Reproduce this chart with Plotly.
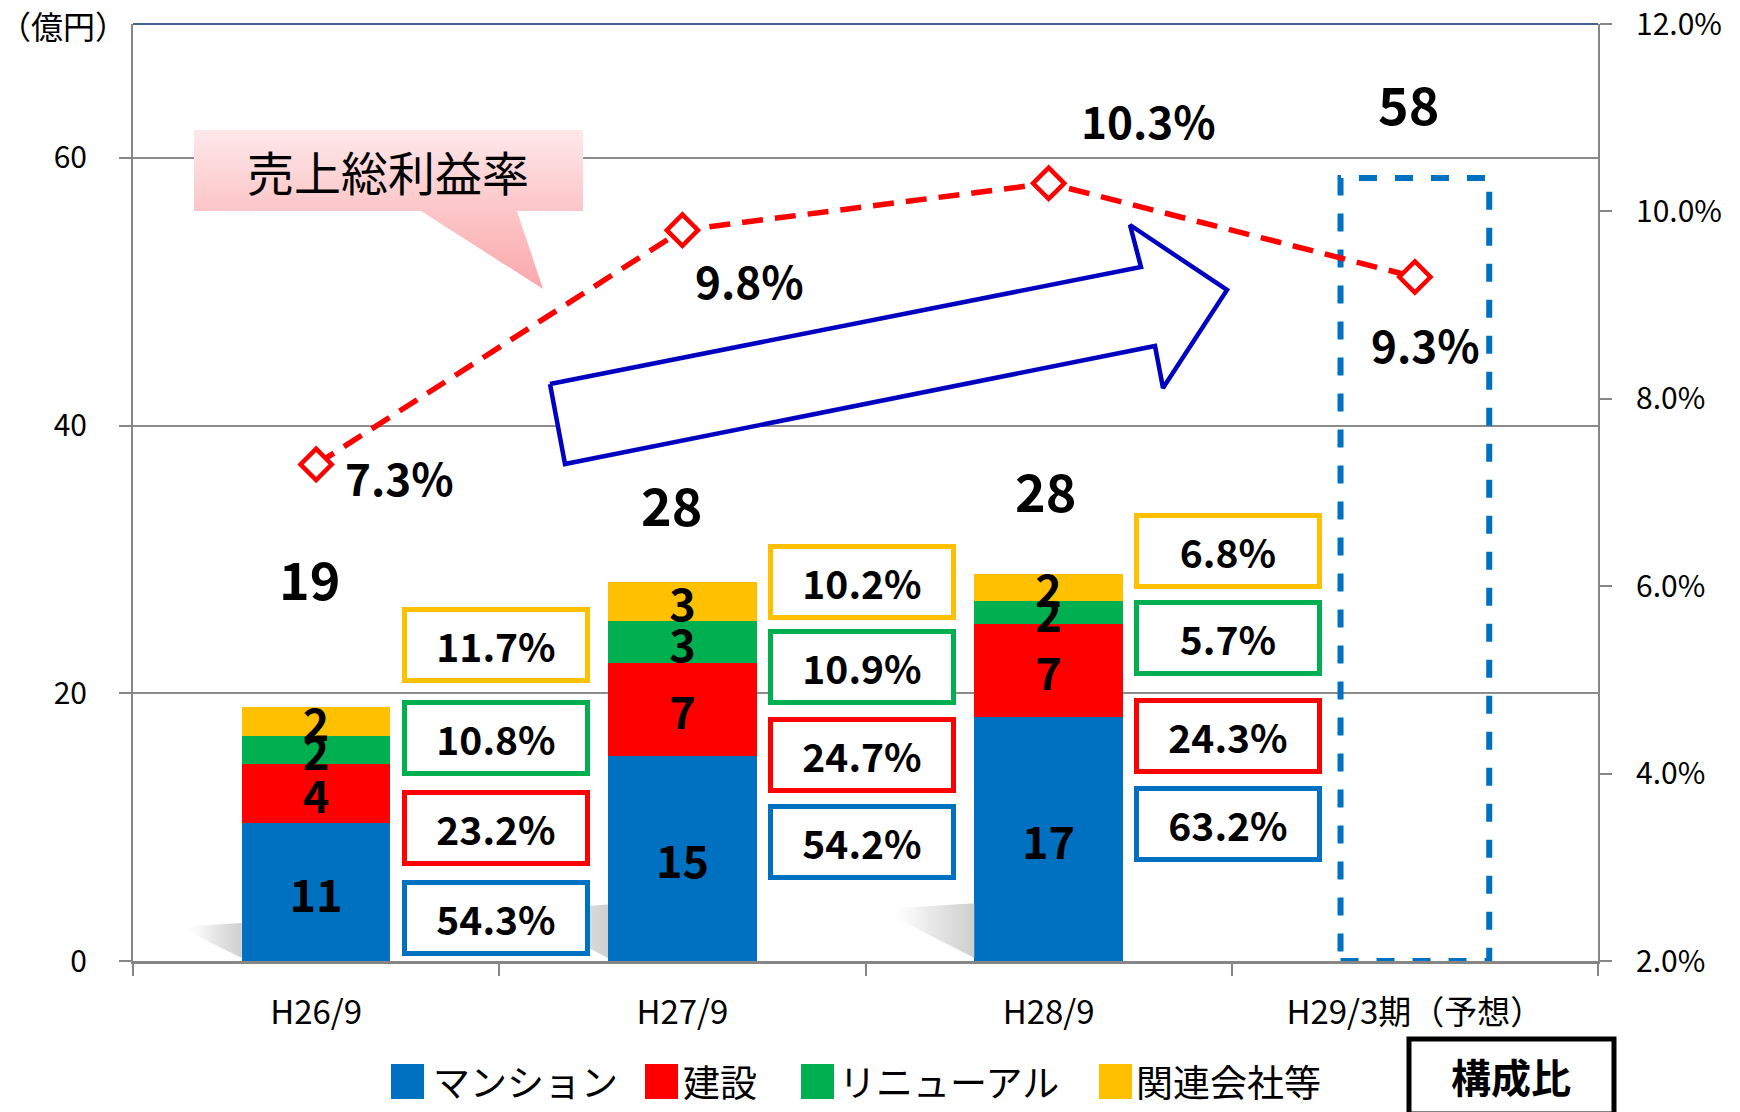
import plotly.graph_objects as go

# ---------------- data ----------------
categories = ["H26/9", "H27/9", "H28/9", "H29/3期（予想）"]
series_names = ["マンション", "建設", "リニューアル", "関連会社等"]
series_colors = ["#0070C0", "#FF0000", "#00B050", "#FFC000"]

mansion = [10.3, 15.3, 18.2]
construction = [4.4, 7.0, 7.0]
renewal = [2.1, 3.1, 1.7]
affiliates = [2.2, 2.9, 2.0]

mansion_labels = ["11", "15", "17"]
construction_labels = ["4", "7", "7"]
renewal_labels = ["2", "3", "2"]
affiliates_labels = ["2", "3", "2"]

total_labels = ["19", "28", "28", "58"]
forecast_total = 58.5

margin_rate = [7.3, 9.8, 10.3, 9.3]

share_mansion = [54.3, 54.2, 63.2]
share_construction = [23.2, 24.7, 24.3]
share_renewal = [10.8, 10.9, 5.7]
share_affiliates = [11.7, 10.2, 6.8]

left_ticks = [0, 20, 40, 60]
right_ticks = [2, 4, 6, 8, 10, 12]

# ---------------- layout helpers ----------------
FONT = "Noto Sans CJK JP"
W, H = 1740, 1112
L, R, T, B = 133, 1598, 24, 961  # plot area in pixels
BAR_W = 0.406
CAT_W = (R - L) / len(categories)


def px(X):
    return (X - L) / (R - L)


def py(Y):
    return (B - Y) / (B - T)


fig = go.Figure()

seg_values = [mansion, construction, renewal, affiliates]
seg_labels = [mansion_labels, construction_labels, renewal_labels, affiliates_labels]
bar_tops = [m + c + r + a for m, c, r, a in zip(mansion, construction, renewal, affiliates)]

# soft perspective shadows to the lower-left of each bar (pixel-space overlay axes)
for i, top in enumerate(bar_tops):
    left_edge = L + CAT_W * (i + 0.5 - BAR_W / 2)
    sw, sh = 3.2 * top, 2.0 * top
    fig.add_trace(go.Scatter(
        x=[left_edge, left_edge - sw, left_edge - sw * 0.85, left_edge, left_edge],
        y=[B - sh, B - sh * 0.9, B - sh * 0.75, B - 3, B - sh], xaxis="x3", yaxis="y3",
        mode="lines", fill="toself", line=dict(width=0, color="rgba(0,0,0,0)"),
        fillgradient=dict(type="horizontal", start=left_edge - sw, stop=left_edge,
                          colorscale=[[0, "rgba(255,255,255,0)"], [0.5, "#EAEAEA"], [1, "#CFCFCF"]]),
        hoverinfo="skip", showlegend=False,
    ))

for name, vals, labs, col in zip(series_names, seg_values, seg_labels, series_colors):
    fig.add_trace(go.Bar(
        x=categories[:len(vals)], y=vals, name=name, text=labs,
        marker=dict(color=col, line=dict(width=0)), width=BAR_W,
        textposition="inside", insidetextanchor="middle", textangle=0,
        textfont=dict(family=FONT, size=45, color="black", weight="bold"),
        showlegend=False, hoverinfo="name+y",
    ))

# gross margin line
fig.add_trace(go.Scatter(
    x=categories, y=margin_rate, yaxis="y2", mode="lines+markers",
    name="売上総利益率",
    line=dict(color="#FF0000", width=5.5, dash="21px,12px"),
    marker=dict(symbol="diamond", size=24, color="white",
                line=dict(color="#FF0000", width=4.5)),
    showlegend=False,
))

# callout balloon (pixel-space overlay axes)
cx = [194, 583, 583, 517, 543, 421, 194, 194]
cy = [130, 130, 211, 211, 289, 211, 211, 130]
fig.add_trace(go.Scatter(
    x=cx, y=cy, xaxis="x3", yaxis="y3", mode="lines", fill="toself",
    line=dict(width=0, color="rgba(0,0,0,0)"),
    fillgradient=dict(type="vertical", start=130, stop=289,
                      colorscale=[[0, "#FEE8EA"], [0.5, "#FCC6C8"], [1, "#FBA8AB"]]),
    hoverinfo="skip", showlegend=False,
))

# big blue arrow (pixel-space overlay axes)
arrow = [(550, 384), (1141, 267), (1130, 225), (1227, 290), (1163, 388), (1155, 346), (565, 464), (550, 384)]
fig.add_trace(go.Scatter(
    x=[p[0] for p in arrow], y=[p[1] for p in arrow], xaxis="x3", yaxis="y3",
    mode="lines", fill="toself", fillcolor="white",
    line=dict(color="#0000C0", width=4.5), hoverinfo="skip", showlegend=False,
))

annotations = []

# total labels above bars
total_shift = [(-7, 129), (-11, 79), (-3, 85), (-6, 75)]
for i, (lab, top) in enumerate(zip(total_labels, bar_tops + [forecast_total])):
    annotations.append(dict(
        x=i, y=top, xref="x", yref="y", text=lab, showarrow=False,
        xshift=total_shift[i][0], yshift=total_shift[i][1],
        font=dict(family=FONT, size=52, color="black", weight="bold")))

# margin-rate labels
rate_shift = [(83, -13), (67, -50), (100, 63), (11, -67)]
for i, v in enumerate(margin_rate):
    annotations.append(dict(
        x=i, y=v, xref="x", yref="y2", text=f"{v:.1f}%", showarrow=False,
        xshift=rate_shift[i][0], yshift=rate_shift[i][1],
        font=dict(family=FONT, size=44, color="black", weight="bold")))

# composition ratio boxes
shares = [share_mansion, share_construction, share_renewal, share_affiliates]
box_y = [[3.23, 9.94, 16.65, 23.6], [8.86, 15.4, 22.0, 28.3], [10.27, 16.8, 24.1, 30.6]]
for i in range(3):
    for k, (sh, col) in enumerate(zip(shares, series_colors)):
        annotations.append(dict(
            x=i + 0.49, y=box_y[i][k], xref="x", yref="y", text=f"{sh[i]:.1f}%",
            showarrow=False, width=170, height=58, borderpad=4, borderwidth=5,
            bordercolor=col, bgcolor="white",
            font=dict(family=FONT, size=39, color="black", weight="bold")))

# callout text
annotations.append(dict(
    x=388, y=170, xref="x3", yref="y3", text="売上総利益率", showarrow=False,
    font=dict(family=FONT, size=47, color="black")))

# unit label
annotations.append(dict(
    x=px(63), y=py(25), xref="paper", yref="paper", text="（億円）", showarrow=False,
    xanchor="center", yanchor="middle",
    font=dict(family=FONT, size=32, color="black")))

shapes = []

# forecast dashed box
shapes.append(dict(
    type="rect", xref="x", yref="y", x0=3 - BAR_W / 2, x1=3 + BAR_W / 2,
    y0=0, y1=forecast_total, line=dict(color="#0070C0", width=6, dash="dash"),
    fillcolor="rgba(0,0,0,0)", layer="between"))

# top border
shapes.append(dict(type="line", xref="paper", yref="paper", x0=0, x1=1, y0=1, y1=1,
                   line=dict(color="#44648F", width=2)))

# custom legend
leg_sq = [391, 645, 801, 1099]
leg_tx = [431, 681, 837, 1134]
for name, col, sx, tx in zip(series_names, series_colors, leg_sq, leg_tx):
    shapes.append(dict(type="rect", xref="paper", yref="paper",
                       x0=px(sx), x1=px(sx + 33), y0=py(1099), y1=py(1064),
                       fillcolor=col, line=dict(width=0)))
    annotations.append(dict(x=px(tx), y=py(1081), xref="paper", yref="paper", text=name,
                            showarrow=False, xanchor="left", yanchor="middle",
                            font=dict(family=FONT, size=37, color="black")))

# 構成比 box
shapes.append(dict(type="rect", xref="paper", yref="paper",
                   x0=px(1409), x1=px(1614), y0=py(1114), y1=py(1039),
                   fillcolor="white", line=dict(color="black", width=5)))
annotations.append(dict(x=px(1511), y=py(1076), xref="paper", yref="paper", text="構成比",
                        showarrow=False, xanchor="center", yanchor="middle",
                        font=dict(family=FONT, size=40, color="black", weight="bold")))

fig.update_layout(
    width=W, height=H,
    margin=dict(l=L, r=W - R, t=T, b=H - B, autoexpand=False),
    paper_bgcolor="white", plot_bgcolor="white",
    barmode="stack", bargap=0,
    uniformtext=dict(minsize=45, mode="show"),
    font=dict(family=FONT, color="black"),
    xaxis=dict(
        type="category", categoryorder="array", categoryarray=categories,
        range=[-0.5, 3.5], tickson="boundaries", ticks="outside", ticklen=12,
        tickcolor="#868686", tickwidth=2, showline=True, linecolor="#868686", linewidth=3,
        showgrid=False, tickfont=dict(family=FONT, size=33, color="black"),
        ticklabelstandoff=20, automargin=False,
    ),
    yaxis=dict(
        range=[0, 70], tickvals=left_ticks, ticks="outside", ticklen=12,
        tickcolor="#868686", tickwidth=2, showline=True, linecolor="#868686", linewidth=2,
        showgrid=True, gridcolor="#8C8C8C", gridwidth=1.5, zeroline=False,
        tickfont=dict(family=FONT, size=30, color="black"), ticklabelstandoff=26,
        automargin=False,
    ),
    yaxis2=dict(
        overlaying="y", side="right", range=[2, 12], tickvals=right_ticks,
        ticktext=[f"{v:.1f}%" for v in right_ticks], ticks="outside", ticklen=12,
        tickcolor="#868686", tickwidth=2, showline=True, linecolor="#868686", linewidth=2,
        showgrid=False, zeroline=False, ticklabeloverflow="allow",
        tickfont=dict(family=FONT, size=30, color="black"), ticklabelstandoff=18,
        automargin=False,
    ),
    xaxis3=dict(overlaying="x", anchor="y3", range=[L, R], visible=False, fixedrange=True),
    yaxis3=dict(overlaying="y", anchor="x3", range=[B, T], visible=False, fixedrange=True),
    shapes=shapes,
    annotations=annotations,
    showlegend=False,
)

fig.write_html("out.html", config={"displayModeBar": False},
               post_script="document.body.style.margin='0px';")
